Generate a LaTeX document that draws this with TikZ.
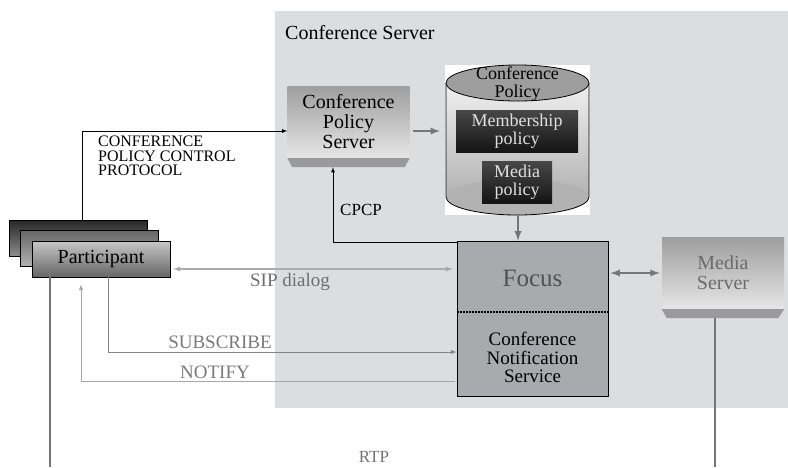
\documentclass[tikz,border=0pt]{standalone}
\usepackage{fontspec}
\setmainfont{Liberation Serif}
\usetikzlibrary{arrows, positioning, calc}
\definecolor{srvgray}{HTML}{DCDDDF}
\definecolor{focusgray}{HTML}{A9AAAD}
\definecolor{bevelgray}{HTML}{9A9A9C}
\definecolor{arrowgray}{HTML}{767678}
\definecolor{sipgray}{HTML}{ABABAD}
\definecolor{notegray}{HTML}{858587}
\definecolor{msggray}{HTML}{6E6E70}
\tikzstyle{server} = [rectangle, minimum width=122pt, minimum height=72pt, top color=black!38, bottom color=black!10, align=center, inner sep=0pt]
\tikzstyle{bevel} = [fill=bevelgray]
\tikzstyle{policy} = [rectangle, top color=black!72, bottom color=black!92, text=black!12, align=center, minimum height=42pt, inner sep=0pt, font=\fontsize{18}{18.5}\selectfont]
\tikzstyle{pbox} = [rectangle, draw=black, thick, minimum width=138pt, minimum height=36pt]
\tikzstyle{flow} = [line width=2.2pt, draw=arrowgray, ->, >=latex]
\tikzstyle{ctrl} = [thick, ->, >=latex]
\tikzstyle{sip} = [line width=1.3pt, draw=sipgray, <->, >=latex]
\tikzstyle{note} = [line width=1pt, draw=notegray, ->, >=latex]
\tikzstyle{rtp} = [line width=2pt, draw=arrowgray]
\tikzstyle{msg} = [font=\fontsize{19}{19}\selectfont, text=msggray]

\begin{document}
\begin{tikzpicture}[x=1pt, y=-1pt]
        \useasboundingbox (0,0) rectangle (788,467);
        % conference server area
        \fill[srvgray] (275,11) rectangle (788,408);
        \node (srvlbl) [anchor=west, inner sep=0pt, font=\fontsize{20}{20}\selectfont] at (285,33) {Conference Server};

        % policy server
        \node (cps) [server, font=\fontsize{20}{20}\selectfont] at (348.5,122) {Conference\\Policy\\Server};
        \fill[bevel] (cps.south west) -- (cps.south east) -- ++(-5,9) -- ([xshift=5pt,yshift=-9pt]cps.south west) -- cycle;

        % policy database
        \fill[white] (445,65) rectangle (590,215);
        \coordinate (polw) at (445,131);
        \coordinate (pols) at (518,215);
        \shade[top color=black!6, bottom color=black!30] (446,83) rectangle (589,197);
        \fill[black!30] (517.5,197) ellipse [x radius=71.5pt, y radius=18pt];
        \draw[thick] (446,83) -- (446,197) arc [start angle=180, end angle=360, x radius=71.5pt, y radius=18pt] -- (589,83);
        \draw[thick, fill=black!38] (517.5,83) ellipse [x radius=71.5pt, y radius=18pt];
        \node (pollbl) [align=center, inner sep=0pt, font=\fontsize{18}{18}\selectfont] at (517.5,84) {Conference\\Policy};
        \node (memb) [policy, minimum width=122pt] at (517,131) {Membership\\policy};
        \node (medp) [policy, minimum width=70pt] at (517,182) {Media\\policy};

        % focus
        \node (focus) [rectangle, draw=black, thick, fill=focusgray, minimum width=151pt, minimum height=155pt] at (532.5,318.5) {};
        \draw[line width=2.8pt, dash pattern=on 2pt off 1pt] ([yshift=6.5pt]focus.west) -- ([yshift=6.5pt]focus.east);
        \node (focuslbl) [text=black!68, font=\fontsize{25}{25}\selectfont] at ([yshift=40.5pt]focus.center) {Focus};
        \node (cnslbl) [align=center, font=\fontsize{19}{18.5}\selectfont] at ([yshift=-39pt]focus.center) {Conference\\Notification\\Service};

        % media server
        \node (media) [server, text=black!58, font=\fontsize{20}{20}\selectfont] at (723,273) {Media\\Server};
        \fill[bevel] (media.south west) -- (media.south east) -- ++(-6,9) -- ([xshift=5pt,yshift=-9pt]media.south west) -- cycle;

        % participants
        \node (pback) [pbox, top color=black!85, bottom color=black!45] at (78.5,238) {};
        \node (pmid) [pbox, top color=black!60, bottom color=black!30] at (89,248.5) {};
        \node (part) [pbox, top color=black!22, bottom color=black!60, font=\fontsize{20}{20}\selectfont] at (101,259) {Participant};

        % control protocol
        \draw[ctrl] ([xshift=73pt]pback.north west) |- ([yshift=-9pt]cps.west);
        \node (cpcplbl) [anchor=north west, align=left, inner sep=0pt, font=\fontsize{16}{14.5}\selectfont] at (98,136) {CONFERENCE\\POLICY CONTROL\\PROTOCOL};
        \draw[flow, shorten <=3pt, shorten >=5pt] ([yshift=-9pt]cps.east) -- (polw);
        \draw[flow] (pols) -- (pols |- focus.north);
        \draw[ctrl] ([yshift=-2pt]focus.north west) -| ([xshift=-15.5pt,yshift=-9pt]cps.south);
        \node (cpcp) [font=\fontsize{17}{17}\selectfont] at (361,210) {CPCP};

        % sip, subscribe, notify
        \draw[sip] ([xshift=3pt,yshift=-10pt]part.east) -- ([xshift=-4pt,yshift=-10pt]part.east -| focus.west);
        \node (siplbl) [msg] at (290,282) {SIP dialog};
        \draw[note] ([xshift=7pt]part.south) |- ([yshift=-33.5pt]focus.west);
        \node (sublbl) [msg, text=black!52] at (220,342) {SUBSCRIBE};
        \draw[note, draw=black!35] ([xshift=-2pt,yshift=-62.5pt]focus.west) -| ([xshift=-20pt,yshift=-7pt]part.south);
        \node (notlbl) [msg, text=black!52] at (215,372) {NOTIFY};
        \draw[flow, <->] ([xshift=2pt]focus.east |- media.west) -- ([xshift=-2pt]media.west);

        % rtp
        \coordinate (rtpa) at (50,467);
        \coordinate (rtpb) at (715,467);
        \draw[rtp] ([xshift=-51pt,yshift=6pt]part.south) -- (rtpa);
        \draw[rtp] ([xshift=-8pt,yshift=-9pt]media.south) -- (rtpb);
        \node (rtplbl) [text=black!55, font=\fontsize{17}{17}\selectfont] at (374,457) {RTP};

      \end{tikzpicture}
\end{document}
